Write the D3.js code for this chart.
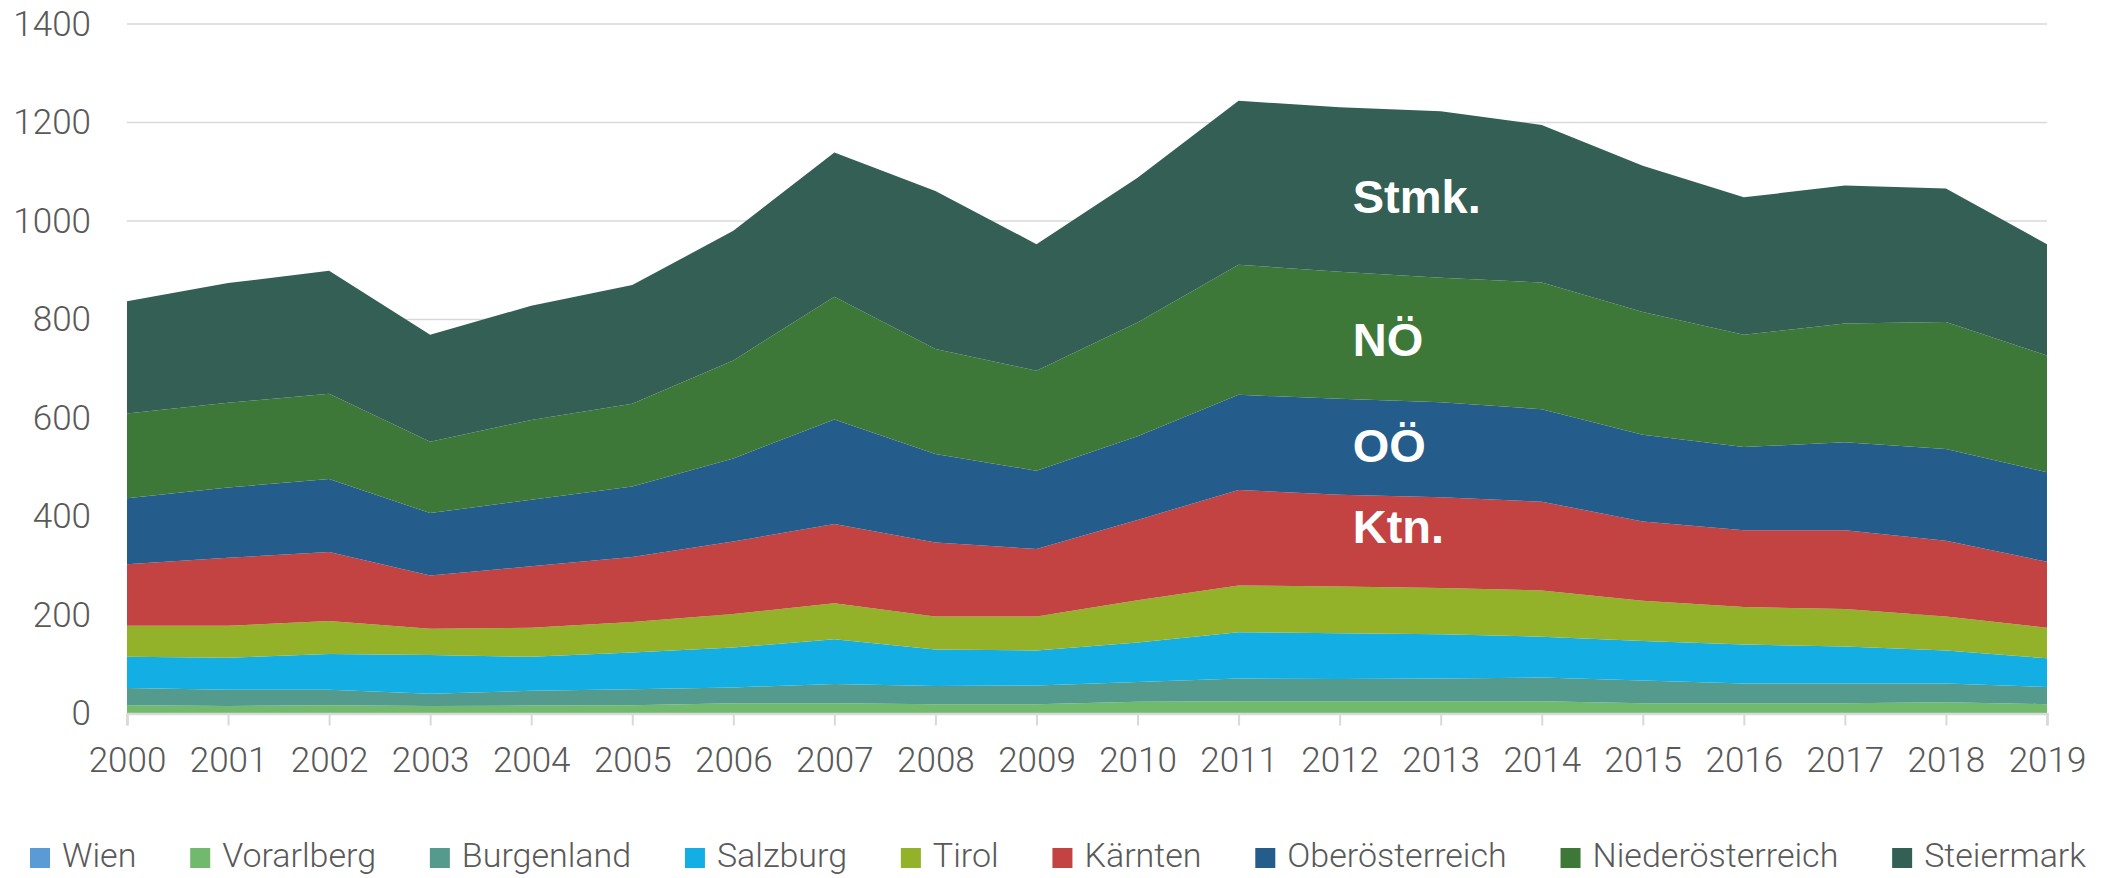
<!DOCTYPE html>
<html>
<head>
<meta charset="utf-8">
<script src="https://cdn.jsdelivr.net/npm/d3@7"></script>
<style>
  body { margin: 0; background: #fff; }
  svg { display: block; }
</style>
</head>
<body>
<div id="chart"></div>
<script>
// years on the x axis
var years = d3.range(2000, 2020);

// stacking order, bottom to top
var regions = ["Wien", "Vorarlberg", "Burgenland", "Salzburg", "Tirol",
               "Kärnten", "Oberösterreich", "Niederösterreich", "Steiermark"];

var wien           = [0, 0, 0, 0, 0, 0, 0, 0, 0, 0, 0, 0, 0, 0, 0, 0, 0, 0, 0, 0];
var vorarlberg     = [17, 15, 17, 15, 16, 17, 21, 21, 19, 19, 24, 25, 25, 25, 25, 21, 21, 21, 23, 19];
var burgenland     = [35, 33, 31, 25, 30, 32, 32, 39, 37, 38, 40, 46, 45, 46, 48, 46, 40, 40, 38, 35];
var salzburg       = [63, 65, 73, 79, 69, 75, 81, 91, 74, 71, 80, 94, 93, 90, 83, 80, 79, 75, 67, 58];
var tirol          = [63, 65, 67, 53, 59, 62, 68, 73, 67, 69, 86, 95, 95, 94, 94, 82, 76, 76, 69, 62];
var kaernten       = [125, 138, 140, 108, 125, 132, 147, 161, 150, 137, 163, 194, 186, 184, 180, 161, 156, 160, 154, 134];
var oberoesterr    = [134, 143, 148, 127, 135, 143, 169, 212, 180, 159, 170, 193, 195, 193, 188, 176, 169, 179, 186, 182];
var niederoesterr  = [172, 172, 173, 145, 162, 168, 199, 249, 213, 203, 231, 264, 258, 253, 257, 249, 228, 241, 258, 237];
var steiermark     = [228, 243, 250, 217, 232, 241, 263, 293, 321, 257, 294, 333, 334, 338, 320, 297, 279, 280, 271, 226];

var yTicks = [0, 200, 400, 600, 800, 1000, 1200, 1400];

// short labels written inside the areas (year, value)
var annotations = [
    { text: "Stmk.", year: 2012.13, value: 1016 },
    { text: "NÖ",    year: 2012.13, value: 726 },
    { text: "OÖ",    year: 2012.13, value: 511 },
    { text: "Ktn.",  year: 2012.13, value: 346 }
];

var colors = {
    "Wien": "#5b9bd5",
    "Vorarlberg": "#71b96d",
    "Burgenland": "#549b8d",
    "Salzburg": "#13aee4",
    "Tirol": "#94b229",
    "Kärnten": "#c34242",
    "Oberösterreich": "#245d8c",
    "Niederösterreich": "#3d7838",
    "Steiermark": "#345f55"
};

var series = [wien, vorarlberg, burgenland, salzburg, tirol,
              kaernten, oberoesterr, niederoesterr, steiermark];

// rows for d3.stack
var table = years.map(function(y, i) {
    var row = { year: y };
    regions.forEach(function(r, j) { row[r] = series[j][i]; });
    return row;
});

var width = 2112,
    height = 878;

var x = d3.scaleLinear().domain([2000, 2019]).range([127, 2047]);
var y = d3.scaleLinear().domain([0, 1400]).range([713.5, 24]);

var svg = d3.select("#chart").append("svg")
    .attr("width", width)
    .attr("height", height)
    .style("background-color", "white");

var tickFont = "Roboto, 'Liberation Sans', sans-serif";

// grid lines
svg.append("g")
    .selectAll("line")
    .data(yTicks.filter(d => d > 0))
    .join("line")
    .attr("x1", x(2000))
    .attr("x2", x(2019))
    .attr("y1", d => y(d))
    .attr("y2", d => y(d))
    .attr("stroke", "#d9d9d9")
    .attr("stroke-width", 1.5);

var stack = d3.stack().keys(regions);
var layers = stack(table);

var area = d3.area()
    .x(d => x(d.data.year))
    .y0(d => y(d[0]))
    .y1(d => y(d[1]));

svg.append("g")
    .selectAll("path")
    .data(layers)
    .join("path")
    .attr("fill", d => colors[d.key])
    .attr("d", area);

// x axis
var xAxis = d3.axisBottom(x)
    .tickValues(years)
    .tickFormat(d3.format("d"))
    .tickSize(12)
    .tickPadding(22);

var gx = svg.append("g")
    .attr("transform", "translate(0," + y(0) + ")")
    .call(xAxis);
gx.select(".domain").attr("stroke", "#d9d9d9").attr("stroke-width", 2.5);
gx.selectAll(".tick line").attr("stroke", "#d9d9d9").attr("stroke-width", 2);
gx.selectAll(".tick text")
    .attr("fill", "#595959")
    .style("font-family", tickFont)
    .style("font-weight", 300)
    .style("font-size", "35px");

// y axis (labels only)
var yAxis = d3.axisLeft(y)
    .tickValues(yTicks)
    .tickFormat(d3.format("d"))
    .tickSize(0)
    .tickPadding(36);

var gy = svg.append("g")
    .attr("transform", "translate(" + x(2000) + ",0)")
    .call(yAxis);
gy.select(".domain").remove();
gy.selectAll(".tick text")
    .attr("fill", "#595959")
    .style("font-family", tickFont)
    .style("font-weight", 300)
    .style("font-size", "35px");

// annotations
svg.append("g")
    .selectAll("text")
    .data(annotations)
    .join("text")
    .attr("x", d => x(d.year))
    .attr("y", d => y(d.value))
    .attr("fill", "white")
    .style("font-family", "'Liberation Sans', Arial, sans-serif")
    .style("font-weight", "bold")
    .style("font-size", "47px")
    .text(d => d.text);

// legend, spread from left to right edge
var legendLeft = 30,
    legendRight = 2086,
    legendBase = 867,
    box = 20,
    boxGap = 12;

var legend = svg.append("g");
var items = legend.selectAll("g")
    .data(regions)
    .join("g");

items.append("rect")
    .attr("width", box)
    .attr("height", box)
    .attr("y", legendBase - box + 1)
    .attr("fill", d => colors[d]);

items.append("text")
    .attr("x", box + boxGap)
    .attr("y", legendBase)
    .attr("fill", "#595959")
    .style("font-family", tickFont)
    .style("font-weight", 300)
    .style("font-size", "34px")
    .text(d => d);

var widths = [];
items.select("text").each(function() { widths.push(this.getComputedTextLength()); });
var used = d3.sum(widths) + regions.length * (box + boxGap);
var gap = (legendRight - legendLeft - used) / (regions.length - 1);

var pos = legendLeft;
items.attr("transform", function(d, i) {
    var t = "translate(" + pos + ",0)";
    pos += box + boxGap + widths[i] + gap;
    return t;
});
</script>
</body>
</html>
